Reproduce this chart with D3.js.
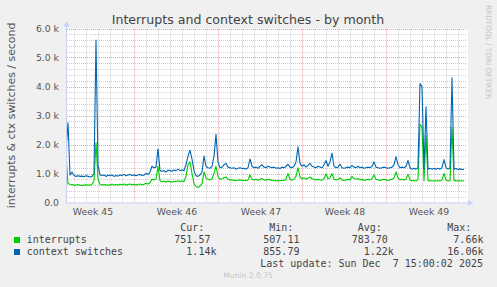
<!DOCTYPE html>
<html>
<head>
<meta charset="utf-8">
<script src="https://cdn.jsdelivr.net/npm/d3@7"></script>
<style>
  body { margin: 0; background: #f0f0f0; }
  svg { display: block; font-family: "DejaVu Sans", sans-serif; }
  .mono { font-family: "DejaVu Sans Mono", monospace; }
</style>
</head>
<body>
<svg></svg>
<script>
"use strict";

// one sample every 4 hours from Nov 4 08:00
const startTime = new Date(2025, 10, 4, 8);
const stepHours = 4;

const interrupts = [
  1600, 650, 630, 620, 600, 600, 620, 600, 590, 600, 610, 600, 600, 620, 750, 2070, 800, 630, 600, 620,
  600, 610, 600, 630, 600, 620, 600, 630, 610, 640, 600, 620, 640, 610, 630, 600, 620, 640, 610, 630,
  660, 640, 680, 800, 780, 800, 1250, 750, 720, 730, 700, 740, 720, 700, 730, 720, 750, 720, 740, 720,
  900, 1300, 1400, 1000, 650, 550, 520, 560, 650, 1050, 850, 800, 780, 820, 1000, 1250, 900, 800, 820, 850,
  880, 800, 780, 770, 780, 750, 770, 780, 760, 770, 750, 780, 950, 800, 780, 800, 770, 800, 830, 780,
  770, 800, 780, 760, 770, 740, 760, 740, 770, 760, 800, 1000, 800, 770, 800, 900, 1200, 880, 820, 850,
  800, 840, 880, 820, 800, 780, 800, 780, 770, 820, 980, 820, 850, 1000, 800, 780, 800, 850, 780, 760,
  780, 800, 780, 900, 820, 800, 830, 780, 800, 760, 780, 800, 780, 820, 950, 800, 780, 760, 780, 800,
  780, 760, 780, 800, 850, 1050, 850, 780, 800, 780, 800, 970, 780, 750, 760, 740, 800, 2700, 2600, 750,
  2300, 750, 760, 740, 750, 740, 760, 740, 780, 1000, 770, 740, 760, 2600, 750, 760, 740, 750, 740, 750,
];

const contextSwitches = [
  1800, 2750, 950, 1050, 930, 900, 920, 900, 910, 890, 920, 900, 880, 900, 1000, 5600, 1300, 950, 930, 950,
  900, 940, 920, 950, 900, 930, 910, 950, 930, 970, 920, 950, 970, 930, 950, 920, 950, 970, 930, 950,
  1000, 970, 1050, 1250, 1200, 1220, 1850, 1100, 1080, 1100, 1050, 1120, 1100, 1080, 1120, 1100, 1150, 1100, 1120, 1100,
  1300, 1600, 1800, 1500, 1100, 920, 900, 950, 1050, 1600, 1250, 1200, 1180, 1250, 1600, 2350, 1400, 1200, 1220, 1300,
  1350, 1220, 1200, 1180, 1200, 1150, 1180, 1200, 1170, 1180, 1150, 1200, 1500, 1250, 1200, 1220, 1180, 1250, 1300, 1220,
  1200, 1250, 1220, 1200, 1220, 1180, 1200, 1170, 1220, 1200, 1250, 1320, 1220, 1200, 1250, 1400, 1920, 1350, 1250, 1300,
  1220, 1280, 1350, 1250, 1220, 1200, 1250, 1220, 1200, 1300, 1450, 1250, 1400, 1700, 1250, 1200, 1220, 1320, 1200, 1180,
  1200, 1220, 1200, 1280, 1220, 1200, 1250, 1200, 1220, 1180, 1200, 1220, 1200, 1250, 1400, 1220, 1200, 1180, 1200, 1220,
  1200, 1180, 1200, 1220, 1300, 1580, 1300, 1200, 1220, 1200, 1250, 1450, 1200, 1150, 1180, 1150, 1200, 4100, 4000, 1150,
  3300, 1150, 1180, 1150, 1170, 1150, 1180, 1150, 1200, 1480, 1200, 1150, 1200, 4300, 1150, 1170, 1140, 1160, 1140, 1140,
];

const yTicks = [0, 1000, 2000, 3000, 4000, 5000, 6000];
const seriesNames = ["interrupts", "context switches"];
const curValues = ["751.57", "  1.14k"];
const minValues = ["507.11", "855.79"];
const avgValues = ["783.70", "  1.22k"];
const maxValues = ["  7.66k", " 16.06k"];
const columnHeads = ["Cur:", "Min:", "Avg:", "Max:"];

const width = 497;
const height = 287;
const plotLeft = 67;
const plotRight = 467;
const plotTop = 28.5;
const plotBottom = 202.5;
const colors = ["#00cc00", "#0066b3"];

const svg = d3.select("svg").attr("width", width).attr("height", height);

const xScale = d3
  .scaleTime()
  .domain([new Date(2025, 10, 4, 10), new Date(2025, 11, 7, 18)])
  .range([plotLeft, plotRight]);
const yScale = d3.scaleLinear().domain([0, 6000]).range([plotBottom, plotTop]);

const timeAt = (i) => new Date(startTime.getTime() + i * stepHours * 3600000);

// canvas
svg
  .append("rect")
  .attr("x", plotLeft)
  .attr("y", plotTop)
  .attr("width", plotRight - plotLeft + 1)
  .attr("height", plotBottom - plotTop)
  .attr("fill", "#ffffff");

// grid
const grid = svg.append("g");
const [t0, t1] = xScale.domain();
const days = d3.timeDay.range(t0, t1).filter((d) => d.getDay() !== 1);
const mondays = d3.timeMonday.range(t0, t1);
const minorY = d3.range(200, 6000, 200).filter((v) => v % 1000 !== 0);

grid
  .selectAll(".vminor")
  .data(days)
  .enter()
  .append("line")
  .attr("x1", (d) => Math.round(xScale(d)) + 0.5)
  .attr("x2", (d) => Math.round(xScale(d)) + 0.5)
  .attr("y1", plotTop)
  .attr("y2", plotBottom)
  .attr("stroke", "#cfcfcf")
  .attr("stroke-dasharray", "1,1");

grid
  .selectAll(".hminor")
  .data(minorY)
  .enter()
  .append("line")
  .attr("x1", plotLeft)
  .attr("x2", plotRight)
  .attr("y1", (d) => Math.round(yScale(d)) + 0.5)
  .attr("y2", (d) => Math.round(yScale(d)) + 0.5)
  .attr("stroke", "#cfcfcf")
  .attr("stroke-dasharray", "1,1");

grid
  .selectAll(".vmajor")
  .data(mondays)
  .enter()
  .append("line")
  .attr("x1", (d) => Math.round(xScale(d)) + 0.5)
  .attr("x2", (d) => Math.round(xScale(d)) + 0.5)
  .attr("y1", plotTop)
  .attr("y2", plotBottom)
  .attr("stroke", "#f0a0a0")
  .attr("stroke-dasharray", "1,1");

grid
  .selectAll(".hmajor")
  .data(yTicks.slice(1))
  .enter()
  .append("line")
  .attr("x1", plotLeft)
  .attr("x2", plotRight)
  .attr("y1", (d) => Math.round(yScale(d)) + 0.5)
  .attr("y2", (d) => Math.round(yScale(d)) + 0.5)
  .attr("stroke", "#f0a0a0")
  .attr("stroke-dasharray", "1,1");

// series
svg
  .append("clipPath")
  .attr("id", "plot")
  .append("rect")
  .attr("x", plotLeft)
  .attr("y", 0)
  .attr("width", plotRight - plotLeft)
  .attr("height", plotBottom);

const line = d3
  .line()
  .x((d, i) => xScale(timeAt(i)))
  .y((d) => yScale(d));

[interrupts, contextSwitches].forEach((series, k) => {
  svg
    .append("path")
    .datum(series)
    .attr("clip-path", "url(#plot)")
    .attr("d", line)
    .attr("fill", "none")
    .attr("stroke", colors[k])
    .attr("stroke-width", 1.1)
    .attr("stroke-linejoin", "round");
});

// axes
const axisColor = "#c8d0f4";
svg
  .append("line")
  .attr("x1", plotLeft - 0.5)
  .attr("x2", plotLeft - 0.5)
  .attr("y1", plotBottom + 0.5)
  .attr("y2", 25)
  .attr("stroke", axisColor);
svg
  .append("line")
  .attr("x1", plotLeft - 1)
  .attr("x2", 469)
  .attr("y1", plotBottom + 0.5)
  .attr("y2", plotBottom + 0.5)
  .attr("stroke", axisColor);
svg
  .append("path")
  .attr("d", `M${plotLeft - 0.5},21 L${plotLeft - 3.5},26.5 L${plotLeft + 2.5},26.5 Z`)
  .attr("fill", axisColor);
svg
  .append("path")
  .attr("d", `M473.5,${plotBottom + 0.5} L468,${plotBottom - 2.5} L468,${plotBottom + 3.5} Z`)
  .attr("fill", axisColor);

// tick labels
svg
  .selectAll(".ylab")
  .data(yTicks)
  .enter()
  .append("text")
  .attr("x", 59)
  .attr("y", (d) => yScale(d) + 3.4)
  .attr("text-anchor", "end")
  .attr("font-size", 9.3)
  .attr("fill", "#555")
  .text((d) => (d === 0 ? "0.0" : `${(d / 1000).toFixed(1)} k`));

const weekStarts = [d3.timeMonday.floor(t0)].concat(mondays);
svg
  .selectAll(".xlab")
  .data(weekStarts.filter((d) => xScale(d3.timeHour.offset(d, 84)) < plotRight))
  .enter()
  .append("text")
  .attr("x", (d) => xScale(d3.timeHour.offset(d, 84)) + 1)
  .attr("y", 215)
  .attr("text-anchor", "middle")
  .attr("font-size", 9.3)
  .attr("fill", "#555")
  .text((d) => `Week ${d3.timeFormat("%V")(d)}`);

// titles
svg
  .append("text")
  .attr("x", 248)
  .attr("y", 24)
  .attr("text-anchor", "middle")
  .attr("font-size", 12.6)
  .attr("fill", "#444")
  .text("Interrupts and context switches - by month");

svg
  .append("text")
  .attr("transform", `translate(15,${(plotTop + plotBottom) / 2}) rotate(-90)`)
  .attr("text-anchor", "middle")
  .attr("font-size", 10.9)
  .attr("fill", "#555")
  .text("interrupts & ctx switches / second");

svg
  .append("text")
  .attr("transform", "translate(486,5) rotate(90)")
  .attr("font-size", 7.3)
  .attr("fill", "#c4c4c4")
  .text("RRDTOOL / TOBI OETIKER");

// legend
const legend = svg.append("g").attr("class", "mono").attr("font-size", 10).attr("fill", "#444");
const columnX = [174.3, 263.3, 351.7, 441.3];
const columns = [curValues, minValues, avgValues, maxValues];

columnHeads.forEach((h, c) => {
  legend
    .append("text")
    .attr("x", columnX[c] + 6)
    .attr("y", 231)
    .text(h);
});

seriesNames.forEach((name, k) => {
  const y = 243 + k * 12;
  legend
    .append("rect")
    .attr("x", 14)
    .attr("y", y - 6)
    .attr("width", 6)
    .attr("height", 6)
    .attr("fill", colors[k]);
  legend.append("text").attr("x", 26.7).attr("y", y).text(name);
  columns.forEach((vals, c) => {
    legend
      .append("text")
      .attr("x", columnX[c])
      .attr("y", y)
      .attr("xml:space", "preserve")
      .style("white-space", "pre")
      .text(vals[k]);
  });
});

legend
  .append("text")
  .attr("x", 483)
  .attr("y", 267)
  .attr("text-anchor", "end")
  .attr("xml:space", "preserve")
  .style("white-space", "pre")
  .text("Last update: Sun Dec  7 15:00:02 2025");

svg
  .append("text")
  .attr("x", 248)
  .attr("y", 278)
  .attr("text-anchor", "middle")
  .attr("font-size", 7.6)
  .attr("fill", "#c4c4c4")
  .text("Munin 2.0.75");
</script>
</body>
</html>
